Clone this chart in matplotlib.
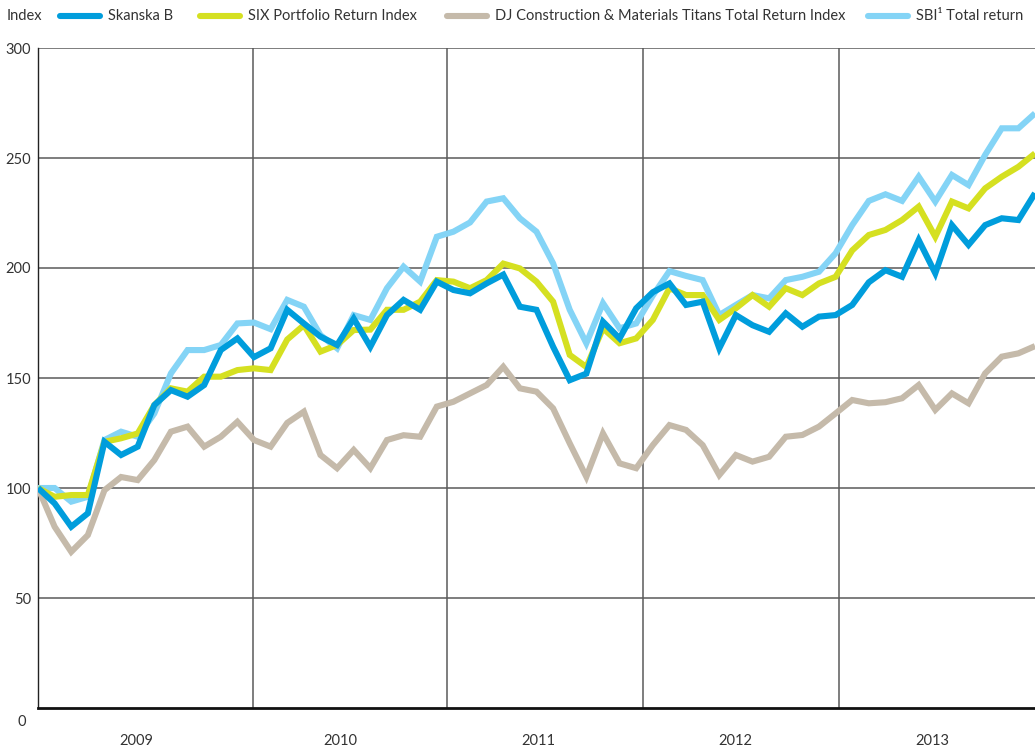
import matplotlib
matplotlib.use("Agg")
import matplotlib.pyplot as plt
from matplotlib.lines import Line2D
import numpy as np

plt.rcParams['font.family'] = ['Lato', 'DejaVu Sans']

# Monthly observations, Dec 2008 .. Dec 2013 (61 points)
skanska = [100, 93, 82.4, 88.5, 121, 115, 118.8, 137.7, 144.5, 141.5, 146.8, 162.7, 168, 159.5, 163.5,
           181, 174.8, 168.8, 165, 177, 164.2, 178.6, 185.5, 181, 193.8, 190, 188.5, 193, 197, 182.4,
           181, 164.2, 149, 152, 175.6, 168, 181.7, 189, 193, 183.2, 184.7, 163.5, 178.6, 174, 171,
           179.4, 173.3, 177.9, 178.6, 183.2, 193.5, 199, 196, 212.7, 197.6, 219.5, 210.5, 219.5, 222.6,
           221.8, 234]
six = [100, 96, 96.8, 96.8, 121, 122.6, 124.8, 137.7, 145.3, 143.8, 150.6, 150.6, 153.6, 154.4, 153.6,
       167.5, 174, 162, 165, 171.8, 172, 181, 181, 184.7, 194.5, 193.8, 190.8, 194.5, 202, 199.8,
       193.8, 184.7, 160.5, 155, 172.6, 165.8, 168, 176.4, 190.8, 187.7, 187.7, 176.4, 181.7, 187.7,
       182.4, 190.8, 187.7, 193, 196, 208, 215, 217.3, 221.8, 227.9, 214.2, 230.2, 227.1, 236.2,
       241.5, 246, 252.1]
dj = [100, 82.4, 71, 78.6, 99, 105, 103.6, 112.7, 125.6, 127.9, 118.8, 123.3, 130.1, 121.8, 118.8,
      129.6, 134.7, 115, 109, 117.3, 109, 121.8, 124, 123.3, 137, 139.2, 143, 146.8, 155.1, 145.3,
      143.8, 136.2, 120.3, 105.1, 124.8, 111.2, 109, 119.5, 128.6, 126.4, 119.5, 105.9, 115, 112,
      114.2, 123.3, 124.1, 127.9, 133.9, 140, 138.5, 139, 140.8, 146.8, 135.5, 143, 138.5, 152.1,
      159.7, 161.2, 164.5]
sbi = [100, 100, 93.8, 96, 121.8, 125.6, 123.3, 133.9, 152.1, 162.7, 162.7, 165, 174.8, 175.2, 172.2,
       185.5, 182.4, 169.5, 163.5, 178.6, 176.4, 190.8, 200.6, 193.8, 214.2, 216.5, 220.7, 230.2,
       231.7, 222.6, 216.5, 202.1, 181, 165.8, 184, 172.6, 174.8, 187.5, 198.6, 196.4, 194.5, 178.6,
       183.2, 187.7, 186.2, 194.5, 196, 198.3, 206.7, 219.5, 230.5, 233.5, 230.5, 241.5, 230.2,
       242.3, 237.7, 251.4, 263.5, 263.5, 270.3]

series_names = ["Skanska B", "SIX Portfolio Return Index",
                "DJ Construction & Materials Titans Total Return Index", "SBI\u00b9 Total return"]
series_colors = ["#009ddc", "#d5e021", "#c5baaa", "#84d4f6"]
year_labels = ["2009", "2010", "2011", "2012", "2013"]
year_label_pos = [5.9, 18.2, 30.1, 41.95, 53.8]
year_bounds = [12.91, 24.63, 36.43, 48.2]
y_ticks = [50, 100, 150, 200, 250, 300]

W, H = 1035, 750
fig = plt.figure(figsize=(W / 100, H / 100), dpi=100)
ax = fig.add_axes([38 / W, (H - 708) / H, (W - 38) / W, (708 - 48) / H])

x = np.arange(len(skanska))
# draw order: DJ, SBI, SIX, Skanska on top
order = [2, 3, 1, 0]
data = [skanska, six, dj, sbi]
for k in order:
    ax.plot(x, data[k], color=series_colors[k], lw=4.4, solid_joinstyle='miter',
            solid_capstyle='butt', zorder=3 + order.index(k))

ax.set_xlim(0, 60)
ax.set_ylim(0, 300)
for yv in y_ticks:
    ax.axhline(yv, color="#5a5a5a", lw=1.1, zorder=1)
for xb in year_bounds:
    ax.axvline(xb, color="#5a5a5a", lw=1.1, zorder=1)

ax.set_yticks(y_ticks)
ax.set_yticklabels([str(v) for v in y_ticks])
ax.tick_params(axis='y', length=0, pad=5, labelsize=10.5, labelcolor="#333333")
ax.set_xticks([])
for s in ['top', 'right']:
    ax.spines[s].set_visible(False)
ax.spines['left'].set_color("#222222")
ax.spines['left'].set_linewidth(1.0)
ax.spines['bottom'].set_color("#111111")
ax.spines['bottom'].set_linewidth(2.0)

for lab, pos in zip(year_labels, year_label_pos):
    ax.text(pos, -0.05, lab, transform=ax.get_xaxis_transform(), ha='center', va='center',
            fontsize=10.5, color="#333333")

fig.text(22 / W, 1 - 722 / H, "0", ha='center', va='center', fontsize=10.5, color="#333333")

# legend row
fig.text(7 / W, 1 - 16 / H, "Index", ha='left', va='center', fontsize=10.5, color="#333333")
leg_x = [60, 200, 447, 868]
for k in range(4):
    x0 = leg_x[k]
    fig.add_artist(Line2D([x0 / W, (x0 + 40) / W], [1 - 16 / H, 1 - 16 / H],
                          color=series_colors[k], lw=4.4, solid_capstyle='round',
                          transform=fig.transFigure))
    fig.text((x0 + 48) / W, 1 - 16 / H, series_names[k], ha='left', va='center',
             fontsize=10.5, color="#333333")

fig.savefig("out.png", dpi=100)
